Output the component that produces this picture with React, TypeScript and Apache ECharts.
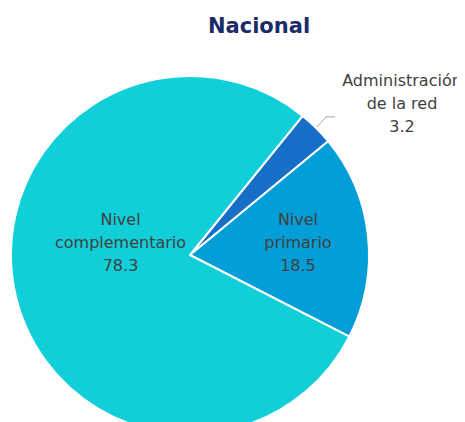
import React, { useEffect, useRef } from "react";
import * as echarts from "echarts";

const categories = ["Administración\nde la red", "Nivel\nprimario", "Nivel\ncomplementario"];
const values = [3.2, 18.5, 78.3];
const colors = ["#166EC6", "#029ED7", "#10CFD9"];

export default function App() {
  const ref = useRef<HTMLDivElement>(null);
  useEffect(() => {
    const chart = echarts.init(ref.current!, null, { renderer: "svg" });
    const labelOffsets: any[] = [[0, 0], [16, -3], [21, -32]];
    chart.setOption({
      animation: false,
      title: {
        text: "Nacional",
        left: 246,
        top: 2,
        textAlign: "center",
        textStyle: { fontFamily: "DejaVu Sans", fontWeight: "bold", fontSize: 21, color: "#1B2B68" },
      },
      series: [
        {
          type: "pie",
          center: [182, 247],
          radius: 179,
          startAngle: 51,
          clockwise: true,
          itemStyle: { borderColor: "#ffffff", borderWidth: 2 },
          labelLine: { show: true, lineStyle: { color: "#A6A6A6", width: 1 } },
          labelLayout: (p: any) => {
            if (p.dataIndex !== 0) return {};
            const s = p.labelLinePoints ? p.labelLinePoints[0] : [310, 122];
            return {
              x: 394,
              y: 95,
              align: "center",
              verticalAlign: "middle",
              labelLinePoints: [s, [s[0] + 10, s[1] - 11], [s[0] + 19, s[1] - 11]],
            };
          },
          data: categories.map((c, i) => ({
            name: c,
            value: values[i],
            itemStyle: { color: colors[i] },
            label: {
              show: true,
              position: i === 0 ? "outside" : "inside",
              offset: labelOffsets[i],
              formatter: (p: any) => `${p.name}\n${p.value}`,
              fontFamily: "DejaVu Sans",
              fontSize: 16,
              lineHeight: 23,
              color: "#404040",
              align: "center",
              overflow: "none",
            },
            labelLine: { show: i === 0 },
          })),
        },
      ],
    });
    return () => chart.dispose();
  }, []);
  return <div ref={ref} style={{ width: 457, height: 414 }} />;
}
